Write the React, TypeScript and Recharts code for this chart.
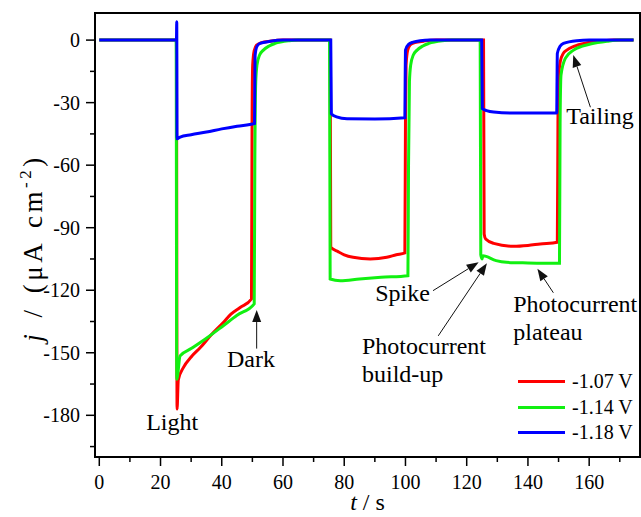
import {
  Label,
  Legend,
  Line,
  LineChart,
  ReferenceArea,
  ReferenceDot,
  ReferenceLine,
  XAxis,
  YAxis,
} from "recharts"

const FONT = "Liberation Serif, Times New Roman, Times, serif"

// [t / s, j / µA cm-2]
const RED_107: [number, number][] = [
  [0, 0], [25.2, 0], [25.4, -177], [25.8, -163], [27.5, -157], [30, -152],
  [33, -147.5], [36.5, -141.5], [40.5, -135.5], [43, -131.5], [46, -128.3],
  [49.7, -124.2], [49.9, -40], [50.1, -12], [50.6, -5], [51.4, -2.4],
  [53, -1.2], [55.8, -0.5], [60, 0], [75.4, 0], [75.6, -99.4], [78, -101.5],
  [80, -103], [82.9, -104.2], [88.5, -105], [93.9, -104.2], [97, -103],
  [99.8, -102.1], [100, -40], [100.2, -12], [100.7, -5], [101.5, -2.4],
  [103, -1.2], [106, -0.5], [110, 0], [125.5, 0], [125.7, -93], [126.2, -95.4],
  [128.8, -97.5], [135.3, -98.9], [140, -98.5], [144, -97.8], [149.6, -97],
  [149.8, -40], [150, -18], [150.6, -10], [151.5, -6.5], [152.7, -4.8],
  [155, -3], [159.3, -1.3], [164.6, -0.3], [168, 0], [174.5, 0],
]

const GREEN_114: [number, number][] = [
  [0, 0], [25.1, 0], [25.3, -162.7], [26.4, -151.5], [30, -148], [35, -143],
  [40.5, -137], [45, -132], [50.6, -126.5], [50.8, -60], [51.1, -20],
  [51.5, -12], [52.4, -7], [53.6, -4.8], [55.5, -2.8], [57.4, -1.6],
  [62, -0.3], [65, 0], [75.2, 0], [75.4, -114.6], [78.7, -115.4], [85, -114.6],
  [92, -113.8], [100.8, -113], [101, -60], [101.3, -20], [101.7, -12],
  [102.6, -7], [103.8, -4.8], [105.7, -2.8], [107.6, -1.6], [112, -0.3],
  [115, 0], [124.4, 0], [124.6, -103], [125, -105], [125.3, -103.5],
  [129.6, -105.8], [133, -106.6], [140, -106.9], [150.3, -107.1],
  [150.5, -40], [150.8, -16.8], [152.2, -8.8], [154.9, -4.8], [157.5, -3],
  [160.4, -1.9], [165.8, -0.6], [170, 0], [174.5, 0],
]

const BLUE_118: [number, number][] = [
  [0, 0], [25.2, 0], [25.3, 8.8], [25.4, -47.3], [26.4, -46.5], [30, -45.4],
  [35, -44.1], [40, -42.6], [45, -41.3], [50.7, -40], [50.8, -20], [50.9, -7.2],
  [51.5, -3], [52.5, -1.6], [55.8, -0.6], [60, 0], [75.6, 0], [75.8, -35.3],
  [77.5, -36.8], [80.9, -37.7], [90, -37.8], [99.8, -37.2], [99.9, -20],
  [100, -4.8], [101, -2], [102.5, -1], [104.8, -0.3], [108, 0], [124.9, 0],
  [125.1, -32.9], [126.5, -33.8], [128.8, -34.5], [135, -35], [149.4, -35],
  [149.5, -20], [149.6, -6.4], [150.5, -3], [151.6, -1.6], [156, -0.3],
  [160, 0], [174.5, 0],
]

const SERIES = [
  { name: "-1.07 V", color: "#ff0000", points: RED_107 },
  { name: "-1.14 V", color: "#11f011", points: GREEN_114 },
  { name: "-1.18 V", color: "#0000ff", points: BLUE_118 },
]

const X_DOMAIN: [number, number] = [-1.4, 176.6]
const Y_DOMAIN: [number, number] = [-200, 13]
const X_TICKS = [0, 10, 20, 30, 40, 50, 60, 70, 80, 90, 100, 110, 120, 130, 140, 150, 160, 170]
const Y_TICKS = [0, -15, -30, -45, -60, -75, -90, -105, -120, -135, -150, -165, -180, -195]

const NOTES = [
  { lines: ["Light"], t: 23.8, j: -182.8, anchor: "middle" },
  { lines: ["Dark"], t: 41.7, j: -152.9, anchor: "start" },
  { lines: ["Spike"], t: 90.1, j: -121.2, anchor: "start" },
  { lines: ["Photocurrent", "build-up"], t: 85.8, j: -146.7, anchor: "start" },
  { lines: ["Photocurrent", "plateau"], t: 135.2, j: -126.5, anchor: "start" },
  { lines: ["Tailing"], t: 152.5, j: -36.1, anchor: "start" },
]

const ARROWS = [
  { from: [51.4, -148], to: [51.4, -129.5] },
  { from: [109, -120.2], to: [123.9, -106.6] },
  { from: [110.7, -141.9], to: [126.6, -107.1] },
  { from: [148.3, -121.2], to: [143.1, -109.7] },
  { from: [160.4, -32.2], to: [154.8, -7.2] },
]

const XTick = (props: any) => {
  const { x, y, payload } = props
  const major = payload.value % 20 === 0
  return (
    <g>
      <line x1={x} y1={y} x2={x} y2={y + (major ? 9 : 5)} stroke="#000" strokeWidth={1.5} />
      {major && (
        <text x={x} y={y + 31.5} textAnchor="middle" style={{ fontFamily: FONT }} fontSize={20} fill="#000">
          {payload.value}
        </text>
      )}
    </g>
  )
}

const YTick = (props: any) => {
  const { x, y, payload } = props
  const major = payload.value % 30 === 0
  return (
    <g>
      <line x1={x} y1={y} x2={x - (major ? 9 : 5)} y2={y} stroke="#000" strokeWidth={1.5} />
      {major && (
        <text x={x - 15} y={y} dy="0.35em" textAnchor="end" style={{ fontFamily: FONT }} fontSize={20} fill="#000">
          {payload.value}
        </text>
      )}
    </g>
  )
}

const Arrow = (p: any) => {
  const { x1, y1, x2, y2 } = p
  const a = Math.atan2(y2 - y1, x2 - x1)
  const len = 12
  const half = 4.5
  const bx = x2 - len * Math.cos(a)
  const by = y2 - len * Math.sin(a)
  const nx = -Math.sin(a) * half
  const ny = Math.cos(a) * half
  return (
    <g>
      <line x1={x1} y1={y1} x2={bx} y2={by} stroke="#111" strokeWidth={1} />
      <polygon points={`${x2},${y2} ${bx + nx},${by + ny} ${bx - nx},${by - ny}`} fill="#111" />
    </g>
  )
}

const LegendBox = () => (
  <div style={{ fontFamily: FONT, fontSize: 20, color: "#000" }}>
    {SERIES.map((s) => (
      <div key={s.name} style={{ display: "flex", alignItems: "center", height: 25.5 }}>
        <span style={{ display: "inline-block", width: 47, height: 3, background: s.color, marginRight: 7 }} />
        <span>{s.name}</span>
      </div>
    ))}
  </div>
)

export default function App() {
  return (
    <div style={{ width: 641, height: 517, background: "#fff", fontFamily: FONT }}>
      <style>{"body{margin:0}"}</style>
      <LineChart width={641} height={517} margin={{ top: 13, right: 1, bottom: 0, left: 0 }}>
        <XAxis
          dataKey="t"
          type="number"
          domain={X_DOMAIN}
          ticks={X_TICKS}
          interval={0}
          allowDataOverflow
          height={60}
          tickSize={0}
          tickMargin={0}
          tickLine={false}
          tick={<XTick />}
          axisLine={{ stroke: "#000", strokeWidth: 2 }}
        >
          <Label
            content={() => (
              <text x={367.5} y={510} textAnchor="middle" style={{ fontFamily: FONT }} fontSize={24} fill="#000">
                <tspan fontStyle="italic">t</tspan> / s
              </text>
            )}
          />
        </XAxis>
        <YAxis
          type="number"
          domain={Y_DOMAIN}
          ticks={Y_TICKS}
          interval={0}
          allowDataOverflow
          width={95}
          tickSize={0}
          tickMargin={0}
          tickLine={false}
          tick={<YTick />}
          axisLine={{ stroke: "#000", strokeWidth: 2 }}
        >
          <Label
            content={() => (
              <text
                x={33}
                y={248}
                transform="rotate(-90 33 248)"
                textAnchor="middle"
                dy="0.35em"
                style={{ fontFamily: FONT, letterSpacing: 3.5, wordSpacing: 3 }}
                fontSize={27}
                fill="#000"
              >
                <tspan fontStyle="italic">j</tspan> / (μA cm
                <tspan dy={-11} fontSize={17}>-2</tspan>
                <tspan dy={11}>)</tspan>
              </text>
            )}
          />
        </YAxis>
        <ReferenceArea
          x1={X_DOMAIN[0]}
          x2={X_DOMAIN[1]}
          y1={Y_DOMAIN[0]}
          y2={Y_DOMAIN[1]}
          fill="none"
          stroke="#000"
          strokeWidth={2}
          ifOverflow="visible"
        />
        {SERIES.map((s) => (
          <Line
            key={s.name}
            name={s.name}
            data={s.points.map(([t, j]) => ({ t, j }))}
            dataKey="j"
            type="monotone"
            stroke={s.color}
            strokeWidth={3}
            dot={false}
            isAnimationActive={false}
          />
        ))}
        {ARROWS.map((a, i) => (
          <ReferenceLine
            key={i}
            segment={[
              { x: a.from[0], y: a.from[1] },
              { x: a.to[0], y: a.to[1] },
            ]}
            ifOverflow="visible"
            shape={<Arrow />}
          />
        ))}
        {NOTES.map((n) => (
          <ReferenceDot
            key={n.lines.join(" ") + n.t}
            x={n.t}
            y={n.j}
            r={0}
            ifOverflow="visible"
            shape={(p: any) => (
              <text x={p.cx} y={p.cy} textAnchor={n.anchor} style={{ fontFamily: FONT }} fontSize={24} fill="#000">
                {n.lines.map((line, k) => (
                  <tspan key={line} x={p.cx} dy={k === 0 ? "0.35em" : 28}>
                    {line}
                  </tspan>
                ))}
              </text>
            )}
          />
        ))}
        <Legend
          layout="vertical"
          align="center"
          verticalAlign="middle"
          wrapperStyle={{ left: 518, top: 369, width: 120 }}
          content={<LegendBox />}
        />
      </LineChart>
    </div>
  )
}
